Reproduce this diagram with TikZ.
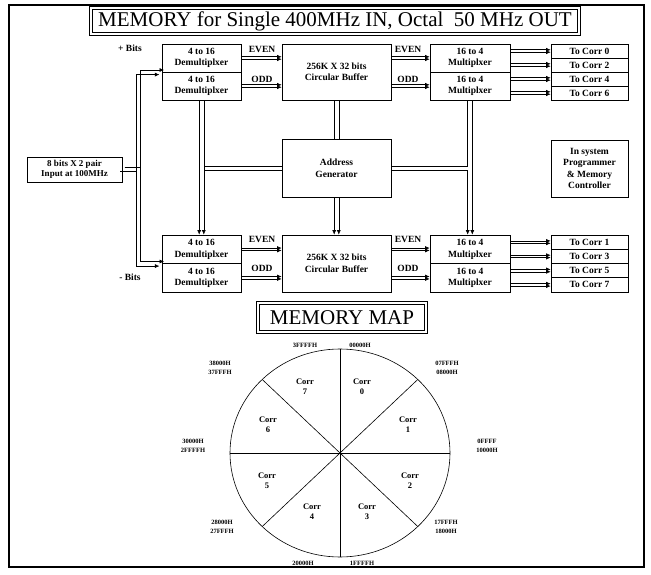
\documentclass[tikz,border=0pt]{standalone}
\usepackage{fontspec}
\setmainfont{Liberation Serif}
\usetikzlibrary{arrows.meta}
\begin{document}
\begin{tikzpicture}[x=1pt,y=-1pt,
  box/.style={draw, line width=0.6pt, inner sep=0pt, align=center, font=\fontsize{9.5}{11.5}\selectfont\bfseries},
  dmx/.style={box, minimum width=79pt, minimum height=28pt},
  mux/.style={box, minimum width=80pt, minimum height=28pt},
  bufbox/.style={box, minimum width=109pt, minimum height=56pt},
  outbox/.style={box, minimum width=77pt, minimum height=14pt},
  titlebox/.style={draw, line width=0.7pt, inner sep=0pt, font=\fontsize{21}{24}\selectfont},
  lbl/.style={inner sep=0pt, font=\fontsize{9.5}{11}\selectfont\bfseries},
  corr/.style={inner sep=0pt, align=center, font=\fontsize{8.5}{10}\selectfont\bfseries},
  addr/.style={inner sep=0pt, align=center, font=\fontsize{6.5}{8.5}\selectfont\bfseries},
  wire/.style={line width=0.6pt},
  arr/.style={-{Latex[length=4.5pt,width=4pt]}},
  arrV/.style={-{Latex[length=4.5pt,width=4pt]}},
  hlink/.style={preaction={draw,wire,arr,transform canvas={yshift=1.2pt}},
                postaction={draw,wire,arr,transform canvas={yshift=-1.2pt}}},
  hbus/.style={preaction={draw,wire,transform canvas={yshift=2.3pt}},
               postaction={draw,wire,transform canvas={yshift=-2.3pt}}},
  vbus/.style={preaction={draw,wire,transform canvas={xshift=2.3pt}},
               postaction={draw,wire,transform canvas={xshift=-2.3pt}}},
  vbusA/.style={preaction={draw,wire,arrV,transform canvas={xshift=2.3pt}},
                postaction={draw,wire,arrV,transform canvas={xshift=-2.3pt}}},
  lbus/.style={preaction={draw,wire,arr,transform canvas={shift={(2.3pt,2.3pt)}}},
               postaction={draw,wire,arr,transform canvas={shift={(-2.3pt,-2.3pt)}}}}
]
\useasboundingbox (0,0) rectangle (651,575);
\draw[line width=1.6pt] (9,5) rectangle (644,567);

\node[titlebox, minimum width=485pt, minimum height=23pt] (title) at (335,21) {MEMORY for Single 400MHz IN, Octal\ \ 50 MHz OUT};
\draw[line width=0.9pt] ([xshift=-2.5pt,yshift=2.5pt]title.north west) rectangle ([xshift=2.5pt,yshift=-2.5pt]title.south east);

% top group
\node[lbl] (plus) at (130,48) {+ Bits};
\node[dmx] (d1) at (201.5,58) {4 to 16\\Demultiplxer};
\node[dmx] (d2) at (201.5,86) {4 to 16\\Demultiplxer};
\node[bufbox] (buf) at (336.5,72) {256K X 32 bits\\Circular Buffer};
\node[mux] (m1) at (470,58) {16 to 4\\Multiplxer};
\node[mux] (m2) at (470,86) {16 to 4\\Multiplxer};
\node[outbox] (o0) at (589.5,51) {To Corr 0};
\node[outbox] (o2) at (589.5,65) {To Corr 2};
\node[outbox] (o4) at (589.5,79) {To Corr 4};
\node[outbox] (o6) at (589.5,93) {To Corr 6};
\node[lbl] (ev1) at (262,49) {EVEN};
\node[lbl] (od1) at (262,79) {ODD};
\node[lbl] (ev2) at (408,49) {EVEN};
\node[lbl] (od2) at (408,79) {ODD};

% middle
\node[bufbox, minimum height=58pt] (addr) at (336.5,168.5) {Address\\Generator};
\node[box, minimum width=77pt, minimum height=57pt] (isp) at (589.5,168.5) {In system\\Programmer\\\& Memory\\Controller};
\node[box, minimum width=95pt, minimum height=25pt, font=\fontsize{9}{10.5}\selectfont\bfseries] (inp) at (74.5,169.5) {8 bits X 2 pair\\Input at 100MHz};

% bottom group
\node[lbl] (minus) at (130,277) {- Bits};
\node[dmx, minimum height=28.5pt] (bd1) at (201.5,249.25) {4 to 16\\Demultiplxer};
\node[dmx, minimum height=28.5pt] (bd2) at (201.5,277.75) {4 to 16\\Demultiplxer};
\node[bufbox, minimum height=57pt] (bbuf) at (336.5,263.5) {256K X 32 bits\\Circular Buffer};
\node[mux, minimum height=28.5pt] (bm1) at (470,249.25) {16 to 4\\Multiplxer};
\node[mux, minimum height=28.5pt] (bm2) at (470,277.75) {16 to 4\\Multiplxer};
\node[outbox, minimum height=14.25pt] (o1) at (589.5,242.1) {To Corr 1};
\node[outbox, minimum height=14.25pt] (o3) at (589.5,256.4) {To Corr 3};
\node[outbox, minimum height=14.25pt] (o5) at (589.5,270.6) {To Corr 5};
\node[outbox, minimum height=14.25pt] (o7) at (589.5,284.9) {To Corr 7};
\node[lbl] (ev3) at (262,239) {EVEN};
\node[lbl] (od3) at (262,268) {ODD};
\node[lbl] (ev4) at (408,239) {EVEN};
\node[lbl] (od4) at (408,268) {ODD};

% data links
\foreach \a/\b in {d1/buf, d2/buf, bd1/bbuf, bd2/bbuf}
  \path[hlink] (\a.east) -- (\a.east -| \b.west);
\foreach \a/\b in {buf/m1, buf/m2, bbuf/bm1, bbuf/bm2}
  \path[hlink] (\a.east |- \b.west) -- (\b.west);
\foreach \a/\b in {m1/o0, m1/o2, m2/o4, m2/o6, bm1/o1, bm1/o3, bm2/o5, bm2/o7}
  \path[hlink] (\a.east |- \b.west) -- (\b.west);

% input buses
\path[lbus] (inp.east) -| ([xshift=-23.5pt]d1.south west) -- (d1.south west);
\path[lbus] (inp.east) -| ([xshift=-23.5pt]bd1.south west) -- (bd1.south west);

% address buses
\path[vbusA] (d2.south) -- (bd1.north);
\fill[white] ([xshift=1.7pt,yshift=1.9pt]addr.west -| d2.south) rectangle ([xshift=2.9pt,yshift=-1.9pt]addr.west -| d2.south);
\path[hbus] (addr.west) -- ([xshift=2.3pt]addr.west -| d2.south);
\path[vbus] (buf.south) -- (addr.north);
\path[vbusA] (addr.south) -- (bbuf.north);
\path[vbusA] (m2.south) -- (bm1.north);
\fill[white] ([xshift=-1.7pt,yshift=1.9pt]addr.east -| m2.south) rectangle ([xshift=-2.9pt,yshift=-1.9pt]addr.east -| m2.south);
\path[hbus] (addr.east) -- ([xshift=-2.3pt]addr.east -| m2.south);

% memory map
\node[titlebox, minimum width=165pt, minimum height=26pt] (mmap) at (342,317.5) {MEMORY MAP};
\draw[line width=0.9pt] ([xshift=-2.5pt,yshift=2.5pt]mmap.north west) rectangle ([xshift=2.5pt,yshift=-2.5pt]mmap.south east);
\coordinate (c) at (340,453);
\draw[line width=0.6pt] (c) ellipse [x radius=110, y radius=104];
\foreach \a in {0,45,...,315}
  \draw[line width=0.6pt] (c) -- ++(\a:110 and 104);

\node[corr] (c7) at (305,387) {Corr\\7};
\node[corr] (c0) at (362,387) {Corr\\0};
\node[corr] (c6) at (268,425) {Corr\\6};
\node[corr] (c1) at (408,425) {Corr\\1};
\node[corr] (c5) at (267,481) {Corr\\5};
\node[corr] (c2) at (410,481) {Corr\\2};
\node[corr] (c4) at (312,512) {Corr\\4};
\node[corr] (c3) at (367,512) {Corr\\3};

\node[addr] (a1) at (305,345) {3FFFFH};
\node[addr] (a2) at (360,345) {00000H};
\node[addr] (a3) at (220,368) {38000H\\37FFFH};
\node[addr] (a4) at (447,368) {07FFFH\\08000H};
\node[addr] (a5) at (193,446) {30000H\\2FFFFH};
\node[addr] (a6) at (487,446) {0FFFF\\10000H};
\node[addr] (a7) at (222,527) {28000H\\27FFFH};
\node[addr] (a8) at (446,527) {17FFFH\\18000H};
\node[addr] (a9) at (303,563) {20000H};
\node[addr] (a10) at (362,563) {1FFFFH};
\end{tikzpicture}
\end{document}
